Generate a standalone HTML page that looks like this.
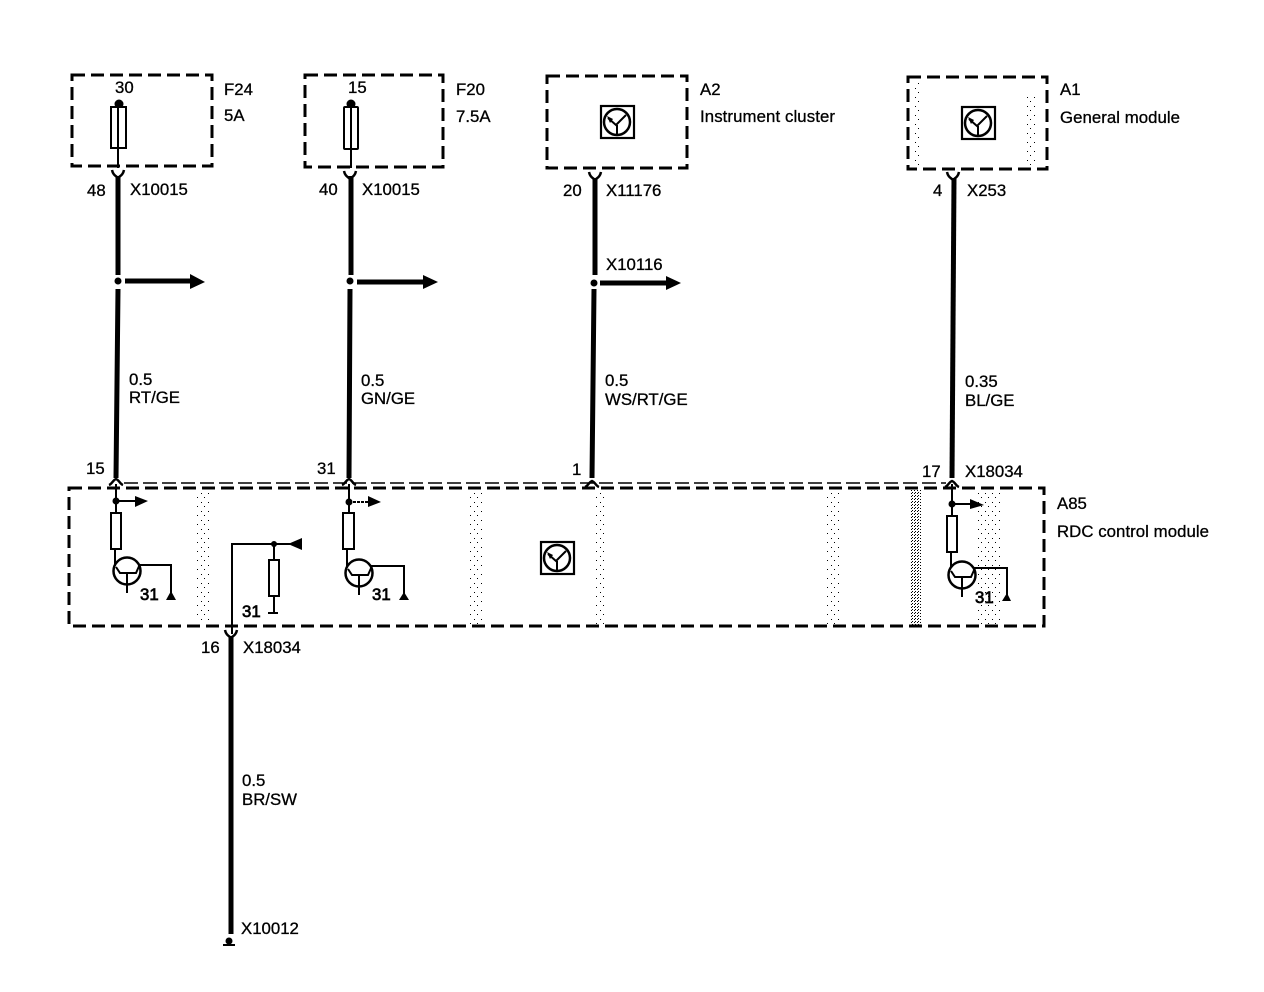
<!DOCTYPE html>
<html>
<head>
<meta charset="utf-8">
<style>
html,body{margin:0;padding:0;background:#fff;width:1264px;height:992px;overflow:hidden}
svg{display:block}
text{font-family:"Liberation Sans",sans-serif;font-size:16.8px;fill:#000;stroke:#000;stroke-width:.3}
.d{fill:none;stroke:#000;stroke-width:3;stroke-dasharray:13 6}
.w{fill:none;stroke:#000;stroke-width:5}
.t{fill:none;stroke:#000;stroke-width:2}
.c{fill:none;stroke:#000;stroke-width:2.5}
.f{fill:#000;stroke:none}
</style>
</head>
<body>
<svg width="1264" height="992" viewBox="0 0 1264 992" xmlns="http://www.w3.org/2000/svg">
<defs>
<g id="ic"><rect x="-16" y="-16" width="33" height="32" fill="none" stroke="#000" stroke-width="2.2"/><circle cx="0" cy="0" r="13" class="c"/><path d="M-9 -4L-1 3L9 -7M0 3V13" class="t" stroke-width="1.5"/><path d="M-10 -6L-4 -3L-7 1Z" class="f"/></g>
<g id="y"><path d="M-6 -6C-5 -1 -2 0 0 2C2 0 5 -1 6 -6" fill="none" stroke="#000" stroke-width="2.5"/></g>
<g id="u"><path d="M-7 5C-4 4 -3 0 0 -1C3 0 4 4 7 5" fill="none" stroke="#000" stroke-width="2.5"/></g>
<g id="tr"><circle cx="0" cy="0" r="13.5" class="c"/><path d="M-11 -4L-7 2H9L13 -7M0 2V22" class="t"/></g>
<pattern id="s1" width="7" height="9" patternUnits="userSpaceOnUse"><rect x="1" y="2" width="1" height="1"/><rect x="5" y="7" width="1" height="1"/></pattern>
<pattern id="s2" width="3" height="3" patternUnits="userSpaceOnUse"><rect x="0" y="0" width="1" height="1"/><rect x="2" y="1" width="1" height="1"/></pattern>
</defs>

<!-- top boxes -->
<rect x="72" y="75" width="140" height="91" class="d"/>
<rect x="305" y="75" width="138" height="92" class="d"/>
<rect x="547" y="76" width="140" height="92" class="d"/>
<rect x="908" y="77" width="139" height="92" class="d"/>
<rect x="912" y="82" width="10" height="84" fill="url(#s1)"/>
<rect x="1025" y="95" width="10" height="70" fill="url(#s1)"/>

<!-- fuses -->
<circle cx="119" cy="104" r="4.5" class="f"/>
<rect x="111" y="107" width="15" height="41" fill="#fff" stroke="#000" stroke-width="2"/>
<path d="M118 105V168" class="t"/>
<circle cx="351" cy="104" r="4.5" class="f"/>
<rect x="344" y="107" width="14" height="42" rx="1" fill="#fff" stroke="#000" stroke-width="2"/>
<path d="M351 105V168" class="t"/>

<use href="#ic" x="617" y="122"/>
<use href="#ic" x="978" y="123"/>

<!-- main wires -->
<use href="#y" x="118" y="176"/><use href="#y" x="350" y="177"/><use href="#y" x="595" y="178"/><use href="#y" x="953" y="178"/>
<path d="M118 176V275M118 289L116 478" class="w"/>
<path d="M351 176V275M350 289L349 478" class="w"/>
<path d="M595 178V275M594 289L592 478" class="w"/>
<path d="M954 178L952 478" class="w"/>
<circle cx="118" cy="281" r="3.5" class="f"/><circle cx="350" cy="281" r="3.5" class="f"/><circle cx="594" cy="283" r="3.5" class="f"/>

<!-- branch arrows -->
<path d="M125 281H192" class="w" stroke-width="6"/><path d="M190 274L205 282L190 289Z" class="f"/>
<path d="M357 282H424" class="w" stroke-width="6"/><path d="M423 275L438 282L423 289Z" class="f"/>
<path d="M600 283H668" class="w" stroke-width="6"/><path d="M666 276L681 283L666 290Z" class="f"/>

<!-- thin dashed line top of A85 -->
<path d="M124 483H946" fill="none" stroke="#000" stroke-width="1.6" stroke-dasharray="14 5"/>
<use href="#u" x="116" y="480"/><use href="#u" x="349" y="480"/><use href="#u" x="592" y="482"/><use href="#u" x="952" y="482"/>

<!-- A85 box -->
<rect x="69" y="488" width="975" height="138" class="d"/>

<!-- speckled bands -->
<rect x="911" y="490" width="10" height="136" fill="url(#s2)"/>
<rect x="976" y="492" width="24" height="132" fill="url(#s1)"/>
<rect x="196" y="492" width="14" height="130" fill="url(#s1)"/>
<rect x="596" y="492" width="10" height="132" fill="url(#s1)"/>
<rect x="826" y="492" width="14" height="132" fill="url(#s1)"/>
<rect x="470" y="492" width="12" height="132" fill="url(#s1)"/>

<!-- left module circuit -->
<path d="M116 484V513M115 549V566" class="t"/>
<circle cx="116" cy="501" r="3.5" class="f"/>
<path d="M116 501H137" class="t" stroke-width="2.5"/><path d="M135 496L148 501L135 507Z" class="f"/>
<rect x="111" y="513" width="10" height="36" fill="#fff" stroke="#000" stroke-width="2"/>
<use href="#tr" x="127" y="571"/>
<path d="M139 565H171V596" class="t"/><path d="M171 591L176 600H166Z" class="f"/>
<text x="140" y="600" style="stroke-width:.7">31</text>

<!-- middle circuit -->
<path d="M232 628V544H290" class="t"/>
<circle cx="274" cy="544" r="3" class="f"/>
<path d="M288 544L302 538V550Z" class="f"/>
<path d="M274 544V560M274 596V614" class="t"/>
<rect x="269" y="560" width="10" height="36" fill="#fff" stroke="#000" stroke-width="2"/>
<path d="M268 613H278" class="t" stroke-width="3"/>
<text x="242" y="617" style="stroke-width:.7">31</text>

<!-- second circuit -->
<path d="M349 484V513M347 549V566" class="t"/>
<circle cx="349" cy="502" r="3.5" class="f"/>
<path d="M349 502H370" class="t" stroke-width="1.6" stroke-dasharray="3 1"/><path d="M368 496L381 502L368 507Z" class="f"/>
<rect x="343" y="513" width="11" height="36" fill="#fff" stroke="#000" stroke-width="2"/>
<use href="#tr" x="359" y="573"/>
<path d="M371 566H404V596" class="t"/><path d="M404 592L409 600H399Z" class="f"/>
<text x="372" y="600" style="stroke-width:.7">31</text>

<!-- right circuit -->
<path d="M952 484V516M951 552V568" class="t"/>
<circle cx="952" cy="504" r="3.5" class="f"/>
<path d="M952 504H973" class="t" stroke-width="1.6"/><path d="M970 499L984 505L970 509Z" class="f"/>
<rect x="947" y="516" width="10" height="36" fill="#fff" stroke="#000" stroke-width="2"/>
<use href="#tr" x="962" y="575"/>
<path d="M974 568H1007V596" class="t"/><path d="M1007 593L1011 601H1002Z" class="f"/>
<text x="975" y="603" style="stroke-width:.7">31</text>

<use href="#ic" x="557" y="558"/>

<!-- bottom wire -->
<path d="M232 626V634" class="t"/>
<use href="#y" x="231" y="636"/>
<path d="M231 636V934" class="w" stroke-width="6"/>
<circle cx="229" cy="941" r="3.5" class="f"/>
<path d="M223 945H235" class="t" stroke-width="3"/>

<!-- labels -->
<text x="115" y="93">30</text>
<text x="224" y="95">F24</text>
<text x="224" y="121">5A</text>
<text x="87" y="196">48</text>
<text x="130" y="195">X10015</text>
<text x="129" y="385">0.5</text>
<text x="129" y="403">RT/GE</text>

<text x="348" y="93">15</text>
<text x="456" y="95">F20</text>
<text x="456" y="122">7.5A</text>
<text x="319" y="195">40</text>
<text x="362" y="195">X10015</text>
<text x="361" y="386">0.5</text>
<text x="361" y="404">GN/GE</text>

<text x="700" y="95">A2</text>
<text x="700" y="122" textLength="135">Instrument cluster</text>
<text x="563" y="196">20</text>
<text x="606" y="196">X11176</text>
<text x="606" y="270">X10116</text>
<text x="605" y="386">0.5</text>
<text x="605" y="405">WS/RT/GE</text>

<text x="1060" y="95">A1</text>
<text x="1060" y="123" textLength="120">General module</text>
<text x="933" y="196">4</text>
<text x="967" y="196">X253</text>
<text x="965" y="387">0.35</text>
<text x="965" y="406">BL/GE</text>

<text x="86" y="474">15</text>
<text x="317" y="474">31</text>
<text x="572" y="475">1</text>
<text x="922" y="477">17</text>
<text x="965" y="477">X18034</text>
<text x="1057" y="509">A85</text>
<text x="1057" y="537" textLength="152">RDC control module</text>

<text x="201" y="653">16</text>
<text x="243" y="653">X18034</text>
<text x="242" y="786">0.5</text>
<text x="242" y="805">BR/SW</text>
<text x="241" y="934">X10012</text>
</svg>
</body>
</html>
